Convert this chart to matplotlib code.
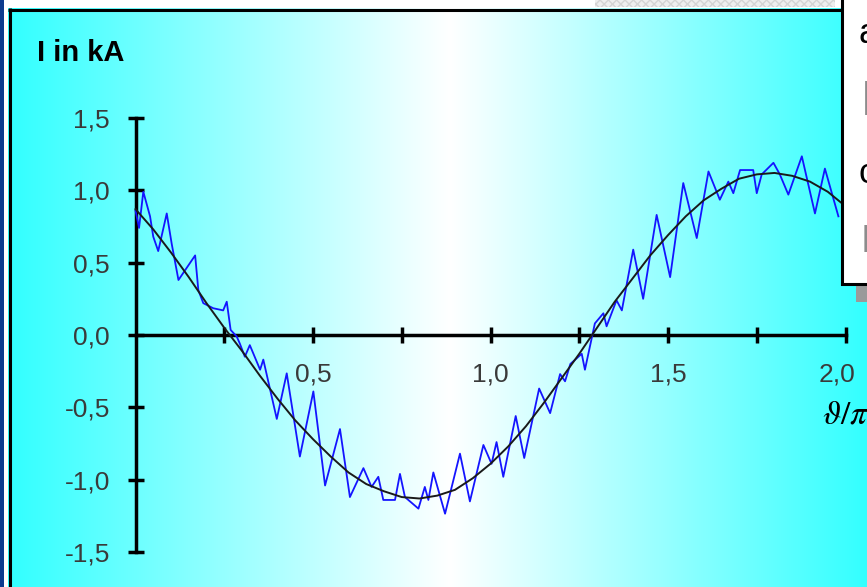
import numpy as np
import matplotlib
matplotlib.use("Agg")
import matplotlib.pyplot as plt
from matplotlib.patches import Rectangle
from matplotlib.transforms import ScaledTranslation

plt.rcParams['font.family'] = ['Liberation Sans', 'DejaVu Sans']
plt.rcParams['mathtext.fontset'] = 'stix'

grund_x = [0.00, 0.05, 0.10, 0.15, 0.20, 0.25, 0.30, 0.35, 0.40, 0.45,
           0.50, 0.55, 0.60, 0.65, 0.70, 0.75, 0.80, 0.85, 0.90, 0.95,
           1.00, 1.05, 1.10, 1.15, 1.20, 1.25, 1.30, 1.35, 1.40, 1.45,
           1.50, 1.55, 1.60, 1.65, 1.70, 1.75, 1.80, 1.85, 1.90, 1.95, 2.00]
grund_y = [0.87, 0.73, 0.57, 0.40, 0.22, 0.05, -0.11, -0.28, -0.44, -0.59,
           -0.72, -0.84, -0.95, -1.03, -1.08, -1.12, -1.13, -1.11, -1.07, -0.99,
           -0.89, -0.77, -0.63, -0.47, -0.30, -0.13, 0.05, 0.23, 0.39, 0.55,
           0.69, 0.82, 0.93, 1.01, 1.08, 1.11, 1.12, 1.10, 1.06, 0.99, 0.89]

mess_x = [0.000, 0.010, 0.022, 0.041, 0.050, 0.064, 0.088, 0.102, 0.121, 0.168,
          0.177, 0.191, 0.219, 0.247, 0.257, 0.268, 0.285, 0.294, 0.308, 0.322,
          0.351, 0.360, 0.398, 0.426, 0.463, 0.501, 0.534, 0.576, 0.604, 0.642,
          0.665, 0.684, 0.698, 0.731, 0.745, 0.759, 0.797, 0.815, 0.825, 0.839,
          0.872, 0.914, 0.942, 0.980, 1.003, 1.017, 1.036, 1.071, 1.095, 1.137,
          1.168, 1.196, 1.210, 1.225, 1.257, 1.266, 1.294, 1.318, 1.327, 1.355,
          1.370, 1.402, 1.430, 1.468, 1.506, 1.543, 1.581, 1.614, 1.646, 1.670,
          1.684, 1.703, 1.740, 1.750, 1.764, 1.797, 1.815, 1.839, 1.877, 1.914,
          1.942, 1.980]
mess_y = [0.86, 0.74, 0.99, 0.82, 0.68, 0.58, 0.84, 0.63, 0.38, 0.55,
          0.31, 0.22, 0.185, 0.17, 0.23, 0.035, -0.01, -0.06, -0.15, -0.07,
          -0.24, -0.17, -0.58, -0.265, -0.84, -0.39, -1.04, -0.65, -1.12, -0.92,
          -1.05, -0.98, -1.14, -1.14, -0.96, -1.12, -1.20, -1.05, -1.14, -0.95,
          -1.235, -0.82, -1.15, -0.76, -0.89, -0.74, -0.98, -0.56, -0.85, -0.37,
          -0.54, -0.27, -0.32, -0.20, -0.13, -0.24, 0.08, 0.15, 0.06, 0.24,
          0.17, 0.59, 0.25, 0.83, 0.40, 1.05, 0.67, 1.13, 0.935, 1.06,
          0.98, 1.14, 1.14, 0.98, 1.11, 1.19, 1.11, 0.97, 1.235, 0.84,
          1.15, 0.82]

y_ticks = [-1.5, -1.0, -0.5, 0.0, 0.5, 1.0, 1.5]
y_labels = ["-1,5", "-1,0", "-0,5", "0,0", "0,5", "1,0", "1,5"]
x_ticks = [0.5, 1.0, 1.5, 2.0]
x_labels = ["0,5", "1,0", "1,5", "2,0"]
x_minor = [0.25, 0.75, 1.25, 1.75]

W, H = 867, 587
fig = plt.figure(figsize=(W / 100, H / 100), dpi=100)

# Hintergrund: Verlauf cyan - weiss - cyan
bg = fig.add_axes([0, 0, 1, 1], zorder=0)
bg.set_xlim(0, W)
bg.set_ylim(H, 0)
bg.axis("off")
cyan = np.array([0.2, 1.0, 1.0])
weiss = np.array([1.0, 1.0, 1.0])
px = np.arange(W) + 0.5
t = np.where(px < 450, (450 - px) / 438, (px - 450) / 417)
t = np.clip(t, 0, 1)[None, :, None]
verlauf = (1 - t) * weiss + t * cyan
bg.imshow(verlauf, extent=[0, W, H, 0], aspect="auto")

# Diagramm
ax = fig.add_axes([135.5 / W, (H - 552.05) / H, 710 / W, 434.1 / H], zorder=2)
ax.patch.set_alpha(0)
ax.set_xlim(0, 2.0)
ax.set_ylim(-1.5, 1.5)
ax.plot(mess_x, mess_y, color="#1414ff", lw=1.3, clip_on=False, zorder=3)
ax.plot(grund_x, grund_y, color="#1a1a1a", lw=1.4, clip_on=False, zorder=4)

for s in ["top", "right"]:
    ax.spines[s].set_visible(False)
ax.spines["left"].set_position(("data", 0))
ax.spines["bottom"].set_position(("data", 0))
ax.spines["left"].set_bounds(-1.5, 1.5)
ax.spines["bottom"].set_bounds(0, 2.0)
for s in ["left", "bottom"]:
    ax.spines[s].set_linewidth(2.5)
    ax.spines[s].set_zorder(2)

ax.set_yticks(y_ticks)
ax.set_yticklabels(y_labels)
ax.set_xticks(x_ticks)
ax.set_xticklabels(x_labels)
ax.set_xticks(x_minor, minor=True)
ax.tick_params(axis="both", which="both", direction="inout", length=11.5,
               width=2.5, color="black")
ax.tick_params(axis="y", pad=12.6, labelsize=19, labelcolor="#3a3a3a")
ax.tick_params(axis="x", pad=14.4, labelsize=19, labelcolor="#3a3a3a")

# letzte Beschriftung etwas nach links, wie im Original
letzte = ax.xaxis.get_major_ticks()[-1].label1
letzte.set_transform(letzte.get_transform()
                     + ScaledTranslation(-0.08, 0, fig.dpi_scale_trans))

# Rahmen, Legendenkasten, Beschriftung (Pixelkoordinaten)
ov = fig.add_axes([0, 0, 1, 1], zorder=5)
ov.set_xlim(0, W)
ov.set_ylim(H, 0)
ov.axis("off")
ov.patch.set_alpha(0)
ov.add_patch(Rectangle((0, 0), W, 8, facecolor="white", edgecolor="none"))
ov.add_patch(Rectangle((595, 0), 240, 7, facecolor="#eeeeee", edgecolor="#d4d4d4",
                       hatch="xxxx", lw=0))
ov.add_patch(Rectangle((0, 0), 8, H, facecolor="white", edgecolor="none"))
ov.add_patch(Rectangle((0, 0), 4, H, facecolor="#0d3b8e", edgecolor="none"))
ov.plot([9.5, 9.5], [8, H], color="black", lw=2.2, solid_capstyle="butt")
ov.plot([8, 841], [9.5, 9.5], color="black", lw=2.2, solid_capstyle="butt")
ov.add_patch(Rectangle((856, 0), 40, 302, facecolor="#9a9a9a", edgecolor="none"))
ov.add_patch(Rectangle((841.5, -10), 60, 293.5, facecolor="white",
                       edgecolor="black", lw=2.2))
ov.text(859, 43, "a", fontsize=25, color="black", va="baseline")
ov.text(862, 115, "l", fontsize=34, color="#8c8c8c", va="baseline")
ov.text(859, 183, "c", fontsize=25, color="black", va="baseline")
ov.text(862, 252, "l", fontsize=26, color="#8c8c8c", va="baseline")

ov.text(37, 61, "I in kA", fontsize=21, fontweight="bold", color="black",
        va="baseline")
ov.text(822, 424, r"$\vartheta/\pi$", fontsize=24, color="black", va="baseline")

fig.savefig("out.png", dpi=100)
